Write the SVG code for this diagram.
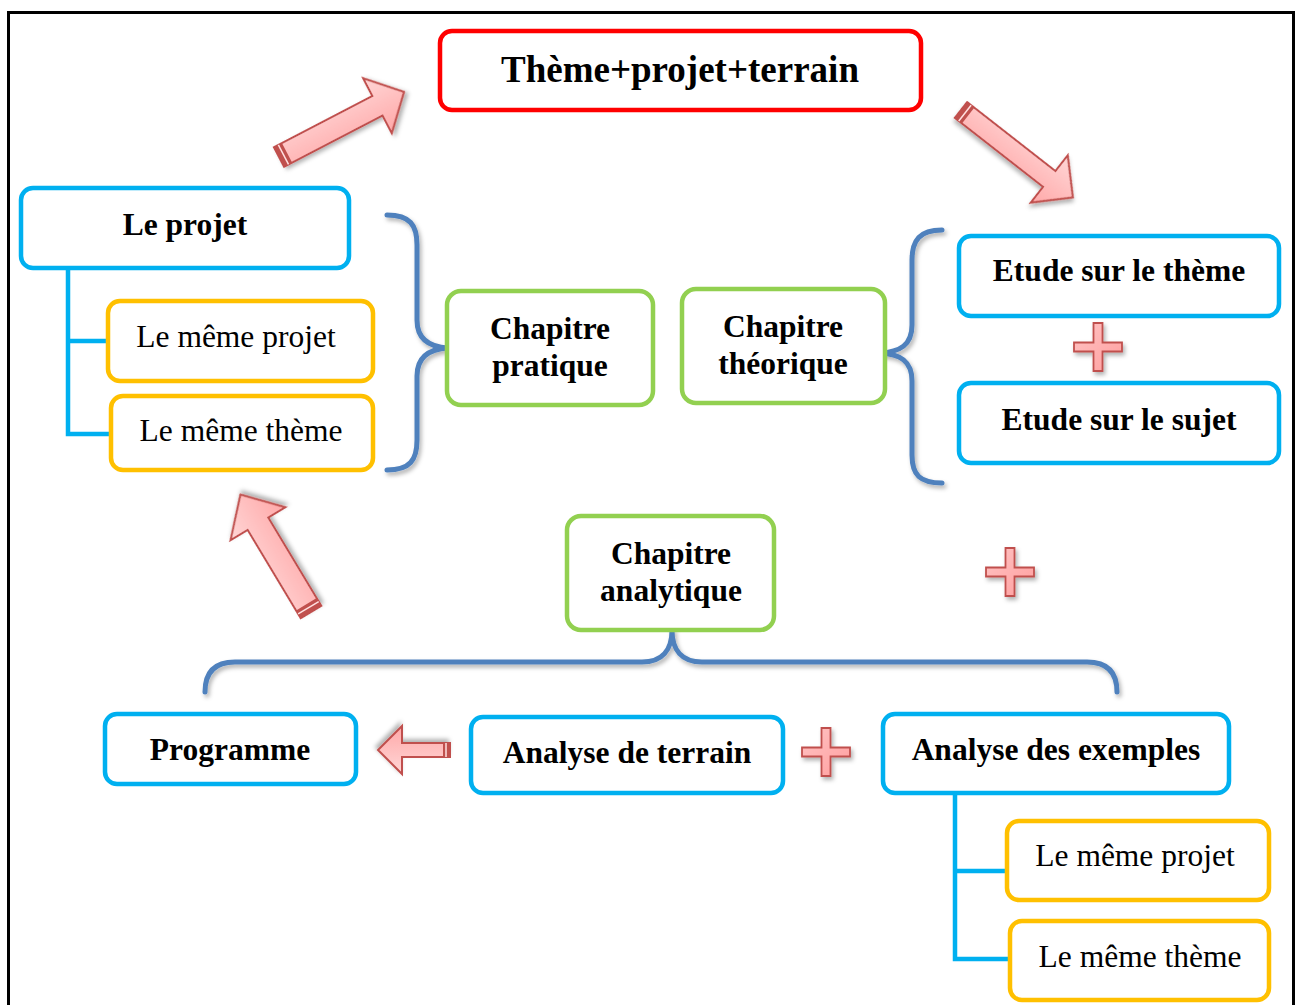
<svg xmlns="http://www.w3.org/2000/svg" width="1299" height="1005" viewBox="0 0 1299 1005">
<defs>
<style>
.box{fill:#fff;stroke-width:4.5}
.blue{stroke:#00B0F0}
.orange{stroke:#FFC000}
.green{stroke:#92D050}
.red{stroke:#FF0000}
.t{font-family:"Liberation Serif","Times New Roman",serif;font-size:31.5px;fill:#000;text-anchor:middle}
.b{font-weight:bold}
.tree{fill:none;stroke:#00B0F0;stroke-width:4.5}
.brace{fill:none;stroke:#4F81BD;stroke-width:5;stroke-linecap:round;stroke-linejoin:round;filter:url(#sh)}
.arrow{fill:url(#pg);stroke:#C0504D;stroke-width:2;stroke-linejoin:miter;filter:url(#sh)}
.plus{fill:url(#pg2);stroke:#C0504D;stroke-width:1.8;filter:url(#sh)}
</style>
<linearGradient id="pg" x1="0" y1="0" x2="0" y2="1">
<stop offset="0" stop-color="#FFD6D6"/>
<stop offset="1" stop-color="#FFA8A8"/>
</linearGradient>
<linearGradient id="pg2" x1="0" y1="0" x2="1" y2="1">
<stop offset="0" stop-color="#FFC4C4"/>
<stop offset="1" stop-color="#FF9E9E"/>
</linearGradient>
<filter id="sh" x="-20%" y="-20%" width="140%" height="140%">
<feDropShadow dx="2" dy="3" stdDeviation="2" flood-color="#000" flood-opacity="0.3"/>
</filter>
</defs>
<rect width="1299" height="1005" fill="#fff"/>
<path d="M8.5,1005 V12.5 H1293.5 V1005" fill="none" stroke="#000" stroke-width="3"/>

<g id="connectors">
<path class="tree" d="M68,268 V434 H111 M68,341 H108"/>
<path class="tree" d="M955,793 V959 H1010 M955,871 H1007"/>
<path class="brace" d="M387,215 C410,215 417,225 417,245 L417,320 C417,340 430,347 448,348 C430,349 417,356 417,376 L417,440 C417,460 410,470 387,470"/>
<path class="brace" d="M942,230 C920,230 912,240 912,260 L912,325 C912,345 900,352 880,353 C900,354 912,361 912,381 L912,455 C912,475 920,483 942,483"/>
<path class="brace" d="M205,692 C205,672 215,662 235,662 L642,662 C662,662 672,650 672,630 C672,650 682,662 702,662 L1087,662 C1107,662 1117,672 1117,692"/>
<g id="arrow1" transform="translate(279,157) rotate(-27.5)">
<polygon class="arrow" points="0,-11 111,-11 111,-31 141,0 111,31 111,11 0,11"/>
<rect x="0" y="-11" width="9" height="22" fill="#C0504D"/>
<line x1="5" y1="-11" x2="5" y2="11" stroke="#FFE0E0" stroke-width="1.5"/>
</g>
<g id="arrow2" transform="translate(961,110) rotate(38)">
<polygon class="arrow" points="0,-10 112,-10 112,-30 142,0 112,30 112,10 0,10"/>
<rect x="0" y="-10" width="9" height="20" fill="#C0504D"/>
<line x1="5" y1="-10" x2="5" y2="10" stroke="#FFE0E0" stroke-width="1.5"/>
</g>
<g id="arrow3" transform="translate(311,612) rotate(-121)">
<polygon class="arrow" points="0,-12 103,-12 103,-32 137,0 103,32 103,12 0,12"/>
<rect x="0" y="-12" width="9" height="24" fill="#C0504D"/>
<line x1="5" y1="-12" x2="5" y2="12" stroke="#FFE0E0" stroke-width="1.5"/>
</g>
<g id="arrow4" transform="translate(450,750) rotate(180)">
<polygon class="arrow" points="0,-7 48,-7 48,-24 72,0 48,24 48,7 0,7"/>
<rect x="0" y="-7" width="7" height="14" fill="#C0504D"/>
<line x1="4" y1="-7" x2="4" y2="7" stroke="#FFE0E0" stroke-width="1.5"/>
</g>
</g>

<g id="plus1" transform="translate(1098,347)">
<polygon class="plus" points="-4.5,-24 4.5,-24 4.5,-4.5 24,-4.5 24,4.5 4.5,4.5 4.5,24 -4.5,24 -4.5,4.5 -24,4.5 -24,-4.5 -4.5,-4.5"/>
</g>
<g id="plus2" transform="translate(1010,572)">
<polygon class="plus" points="-4.5,-24 4.5,-24 4.5,-4.5 24,-4.5 24,4.5 4.5,4.5 4.5,24 -4.5,24 -4.5,4.5 -24,4.5 -24,-4.5 -4.5,-4.5"/>
</g>
<g id="plus3" transform="translate(826,752)">
<polygon class="plus" points="-4.5,-24 4.5,-24 4.5,-4.5 24,-4.5 24,4.5 4.5,4.5 4.5,24 -4.5,24 -4.5,4.5 -24,4.5 -24,-4.5 -4.5,-4.5"/>
</g>

<g id="n-top">
<rect class="box red" x="440" y="31" width="481" height="79" rx="12"/>
<text class="t b" x="680" y="82" style="font-size:37px">Thème+projet+terrain</text>
</g>
<g id="n-projet">
<rect class="box blue" x="21" y="188" width="328" height="80" rx="12"/>
<text class="t b" x="185" y="235">Le projet</text>
</g>
<g id="n-meme-projet1">
<rect class="box orange" x="108" y="301" width="265" height="80" rx="12"/>
<text class="t" x="236" y="347">Le même projet</text>
</g>
<g id="n-meme-theme1">
<rect class="box orange" x="111" y="396" width="262" height="74" rx="12"/>
<text class="t" x="241" y="441">Le même thème</text>
</g>
<g id="n-pratique">
<rect class="box green" x="447" y="291" width="206" height="114" rx="14"/>
<text class="t b" x="550" y="339">Chapitre</text>
<text class="t b" x="550" y="376">pratique</text>
</g>
<g id="n-theorique">
<rect class="box green" x="682" y="289" width="203" height="114" rx="14"/>
<text class="t b" x="783" y="337">Chapitre</text>
<text class="t b" x="783" y="374">théorique</text>
</g>
<g id="n-etude-theme">
<rect class="box blue" x="959" y="236" width="320" height="80" rx="12"/>
<text class="t b" x="1119" y="281">Etude sur le thème</text>
</g>
<g id="n-etude-sujet">
<rect class="box blue" x="959" y="383" width="320" height="80" rx="12"/>
<text class="t b" x="1119" y="430">Etude sur le sujet</text>
</g>
<g id="n-analytique">
<rect class="box green" x="567" y="516" width="207" height="114" rx="14"/>
<text class="t b" x="671" y="564">Chapitre</text>
<text class="t b" x="671" y="601">analytique</text>
</g>
<g id="n-programme">
<rect class="box blue" x="105" y="714" width="251" height="70" rx="12"/>
<text class="t b" x="230" y="760">Programme</text>
</g>
<g id="n-terrain">
<rect class="box blue" x="471" y="717" width="312" height="76" rx="12"/>
<text class="t b" x="627" y="763">Analyse de terrain</text>
</g>
<g id="n-exemples">
<rect class="box blue" x="883" y="714" width="346" height="79" rx="12"/>
<text class="t b" x="1056" y="760">Analyse des exemples</text>
</g>
<g id="n-meme-projet2">
<rect class="box orange" x="1007" y="821" width="262" height="79" rx="12"/>
<text class="t" x="1135" y="866">Le même projet</text>
</g>
<g id="n-meme-theme2">
<rect class="box orange" x="1010" y="921" width="259" height="79" rx="12"/>
<text class="t" x="1140" y="967">Le même thème</text>
</g>
</svg>
